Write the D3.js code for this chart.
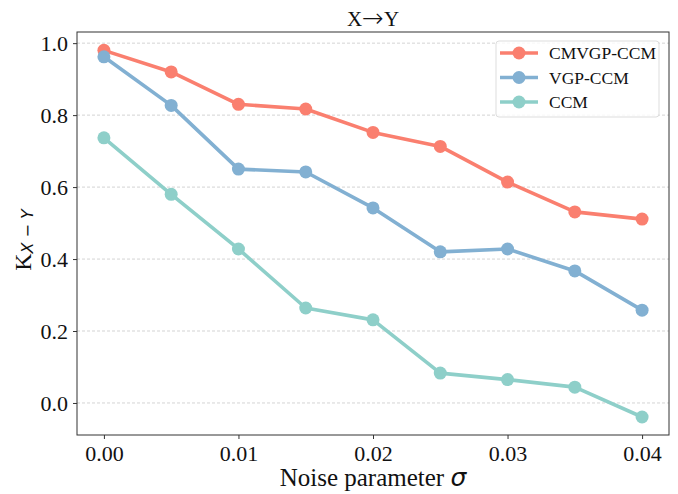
<!DOCTYPE html>
<html lang="en">
<head>
<meta charset="utf-8">
<style>
  body { margin: 0; background: #fff; }
  svg { font-family: "Liberation Serif", "DejaVu Serif", serif; }
  .grid line { stroke: #c8c8c8; stroke-dasharray: 3,2; stroke-width: 0.8px; }
  .axis path, .axis line { stroke: #333; }
  .axis text { font-size: 22px; fill: #111; font-family: "Liberation Serif", serif; }
</style>
</head>
<body>
<svg width="678" height="494"></svg>
<script src="https://cdn.jsdelivr.net/npm/d3@7/dist/d3.min.js"></script>
<script>
// noise levels on x
var sigma = [0.000, 0.005, 0.010, 0.015, 0.020, 0.025, 0.030, 0.035, 0.040];

var cmvgpCcm = [0.980, 0.920, 0.830, 0.817, 0.752, 0.713, 0.614, 0.531, 0.511];
var vgpCcm   = [0.962, 0.827, 0.650, 0.642, 0.542, 0.420, 0.428, 0.367, 0.258];
var ccm      = [0.737, 0.580, 0.428, 0.264, 0.231, 0.083, 0.065, 0.044, -0.039];

var seriesNames = ["CMVGP-CCM", "VGP-CCM", "CCM"];
var seriesColors = ["#fa7f6f", "#82b0d2", "#8ecfc9"];
var xTicks = [0.00, 0.01, 0.02, 0.03, 0.04];
var yTicks = [0.0, 0.2, 0.4, 0.6, 0.8, 1.0];

var svg = d3.select("svg"),
    margin = {top: 32, right: 9, bottom: 59, left: 77},
    width = +svg.attr("width") - margin.left - margin.right,
    height = +svg.attr("height") - margin.top - margin.bottom;

var g = svg.append("g").attr("transform", "translate(" + margin.left + "," + margin.top + ")");

var x = d3.scaleLinear().domain([-0.002, 0.042]).range([0, width]);
var y = d3.scaleLinear().domain([-0.089, 1.031]).range([height, 0]);

// horizontal grid
g.append("g").attr("class", "grid")
    .selectAll("line").data(yTicks).enter().append("line")
    .attr("x1", 0).attr("x2", width)
    .attr("y1", function (d) { return y(d); })
    .attr("y2", function (d) { return y(d); });

g.append("g").attr("class", "axis")
    .attr("transform", "translate(0," + height + ")")
    .call(d3.axisBottom(x).tickValues(xTicks).tickFormat(d3.format(".2f")).tickSize(4).tickPadding(6))
    .call(function (s) { s.select(".domain").remove(); });

g.append("g").attr("class", "axis")
    .call(d3.axisLeft(y).tickValues(yTicks).tickFormat(d3.format(".1f")).tickSize(4).tickPadding(5))
    .call(function (s) { s.select(".domain").remove(); });

// frame
g.append("rect")
    .attr("width", width).attr("height", height)
    .attr("fill", "none").attr("stroke", "#333").attr("stroke-width", 1);

var allSeries = [cmvgpCcm, vgpCcm, ccm];

var line = d3.line()
    .x(function (d, i) { return x(sigma[i]); })
    .y(function (d) { return y(d); });

allSeries.forEach(function (vals, k) {
    g.append("path")
        .datum(vals)
        .attr("fill", "none")
        .attr("stroke", seriesColors[k])
        .attr("stroke-width", 3.6)
        .attr("stroke-linejoin", "round")
        .attr("d", line);

    g.selectAll(".dot" + k)
        .data(vals).enter().append("circle")
        .attr("class", "dot" + k)
        .attr("cx", function (d, i) { return x(sigma[i]); })
        .attr("cy", function (d) { return y(d); })
        .attr("r", 6.5)
        .attr("fill", seriesColors[k]);
});

// legend
var legend = svg.append("g").attr("transform", "translate(496,41)");
legend.append("rect")
    .attr("width", 163).attr("height", 76).attr("rx", 3)
    .attr("fill", "#fff").attr("fill-opacity", 0.8)
    .attr("stroke", "#ddd");

seriesNames.forEach(function (name, k) {
    var ly = 12 + k * 24.5;
    legend.append("line")
        .attr("x1", 4).attr("x2", 42).attr("y1", ly).attr("y2", ly)
        .attr("stroke", seriesColors[k]).attr("stroke-width", 3.6);
    legend.append("circle")
        .attr("cx", 23).attr("cy", ly).attr("r", 6.5)
        .attr("fill", seriesColors[k]);
    legend.append("text")
        .attr("x", 53).attr("y", ly + 6)
        .attr("font-size", 17.5).attr("fill", "#111")
        .text(name);
});

// title
var tt = svg.append("text")
    .attr("x", margin.left + width / 2).attr("y", 26)
    .attr("text-anchor", "middle")
    .attr("font-size", 21).attr("fill", "#111");
tt.append("tspan").text("X");
tt.append("tspan").attr("font-family", "DejaVu Sans").attr("font-weight", 200)
    .attr("font-size", 26).attr("dy", 1).text("\u2192");
tt.append("tspan").attr("dy", -1).text("Y");

// x label
var xl = svg.append("text")
    .attr("x", margin.left + width / 2).attr("y", 486)
    .attr("text-anchor", "middle")
    .attr("font-size", 25).attr("fill", "#111");
xl.append("tspan").text("Noise parameter ");
xl.append("tspan").attr("font-style", "italic").attr("font-family", "DejaVu Sans").text("\u03c3");

// y label
var yl = svg.append("text")
    .attr("transform", "translate(31,240) rotate(-90)")
    .attr("text-anchor", "middle")
    .attr("font-size", 24).attr("fill", "#111");
yl.append("tspan").text("K");
yl.append("tspan").attr("font-size", 16).attr("dy", 2).attr("font-style", "italic")
    .attr("font-family", "DejaVu Sans").text("X \u2212 Y");
</script>
</body>
</html>
